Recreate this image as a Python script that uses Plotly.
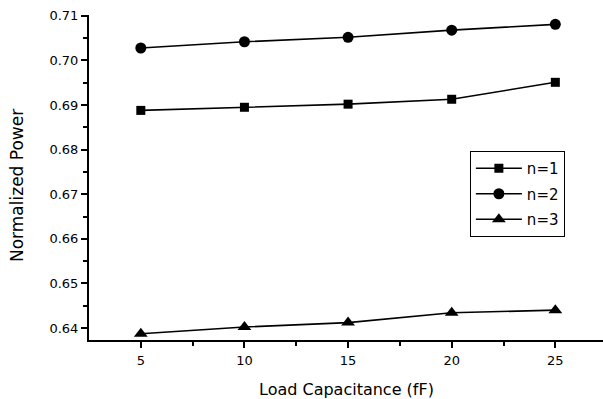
import plotly.graph_objects as go

load_cap = [5, 10, 15, 20, 25]
n1 = [0.6888, 0.6895, 0.6902, 0.6913, 0.6951]
n2 = [0.7028, 0.7042, 0.7052, 0.7068, 0.7081]
n3 = [0.6387, 0.6402, 0.6412, 0.6434, 0.6440]
series_names = ["n=1", "n=2", "n=3"]
symbols = ["square", "circle", "triangle-up"]
y_ticks = [0.64, 0.65, 0.66, 0.67, 0.68, 0.69, 0.70, 0.71]
x_ticks = [5, 10, 15, 20, 25]

FONT = "DejaVu Sans, sans-serif"
fig = go.Figure()
sizes = [9, 11, 12]
for name, vals, sym, sz in zip(series_names, [n1, n2, n3], symbols, sizes):
    fig.add_trace(go.Scatter(
        x=load_cap, y=vals, name=name, mode="lines+markers", legendgroup=name,
        line=dict(color="black", width=1.6),
        marker=dict(symbol=sym, size=sz, color="black"),
    ))

fig.update_layout(
    width=603, height=399,
    margin=dict(l=89, r=0, t=15, b=59),
    paper_bgcolor="white", plot_bgcolor="white",
    font=dict(family=FONT, color="black", size=13),
    legend=dict(
        x=0.741, y=0.5815, xanchor="left", yanchor="top",
        bordercolor="black", borderwidth=1, bgcolor="white",
        font=dict(size=15, family=FONT), itemwidth=46, tracegroupgap=3,
        traceorder="grouped",
    ),
    showlegend=True,
    annotations=[
        dict(text="Load Capacitance (fF)", x=(346 - 89) / 514, y=-(390 - 340) / 325,
             xref="paper", yref="paper", xanchor="center", yanchor="middle",
             showarrow=False, font=dict(size=16, family=FONT)),
        dict(text="Normalized Power", x=-(89 - 17) / 514, y=(340 - 186) / 325,
             xref="paper", yref="paper", xanchor="center", yanchor="middle",
             textangle=-90, showarrow=False, font=dict(size=17, family=FONT)),
    ],
)
fig.update_xaxes(
    range=[2.5, 27.3], tickvals=x_ticks, ticktext=[str(v) for v in x_ticks],
    showline=True, linecolor="black", linewidth=2, showgrid=False, zeroline=False,
    ticks="outside", ticklen=6, tickwidth=1.5, tickcolor="black",
    minor=dict(tickvals=[7.5, 12.5, 17.5, 22.5], ticks="outside", ticklen=4, tickwidth=1.5, tickcolor="black"),
    tickfont=dict(size=13), ticklabelstandoff=1, automargin=False,
)
fig.update_yaxes(
    range=[0.6373, 0.7102], tickvals=y_ticks, ticktext=["%.2f" % v for v in y_ticks],
    showline=True, linecolor="black", linewidth=2, showgrid=False, zeroline=False,
    ticks="outside", ticklen=6, tickwidth=1.5, tickcolor="black",
    minor=dict(tickvals=[0.645, 0.655, 0.665, 0.675, 0.685, 0.695, 0.705], ticks="outside", ticklen=4, tickwidth=1.5, tickcolor="black"),
    tickfont=dict(size=13), automargin=False,
)

fig.write_html("out.html", config={"displayModeBar": False},
               post_script="document.body.style.margin='0';document.body.style.overflow='hidden';")
